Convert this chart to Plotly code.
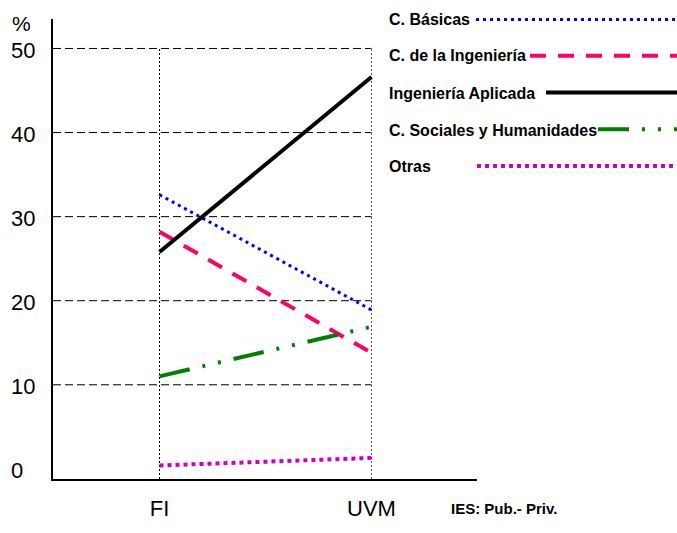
import plotly.graph_objects as go

# Share of curriculum (%) by subject area, public vs private institution
categories = ["FI", "UVM"]
basicas = [32.6, 18.9]
ciencias_ing = [28.2, 13.8]
ing_aplicada = [25.8, 46.6]
sociales = [11.0, 16.9]
otras = [0.4, 1.3]

series_names = [
    "C. Básicas",
    "C. de la Ingeniería",
    "Ingeniería Aplicada",
    "C. Sociales y Humanidades",
    "Otras",
]
series_values = [basicas, ciencias_ing, ing_aplicada, sociales, otras]

y_ticks = [0, 10, 20, 30, 40, 50]
y_tick_labels = ["0", "10", "20", "30", "40", "50"]
grid_values = [10, 20, 30, 40, 50]

# Canvas and plot-area geometry (pixels)
W, H = 677, 533
L, R, T, B = 53, 200, 19, 38
PLOT_W = W - L - R
PLOT_H = H - T - B

# axis ranges chosen so grid and guide lines fall on pixel centres
Y_SCALE = 8.7            # px per percentage point
Y_ZERO_PX = 484.5        # pixel row of the 0 value
Y_RANGE = [-(H - B - Y_ZERO_PX) / Y_SCALE, (Y_ZERO_PX - T) / Y_SCALE]
X_OFF = 0.5 / (PLOT_W / 2)
X_RANGE = [-0.5 - X_OFF, 1.5 - X_OFF]


def paper_x(px):
    return (px - L) / PLOT_W


def paper_y(py):
    return (H - B - py) / PLOT_H


FONT = "Liberation Sans, Arial, sans-serif"

styles = [
    dict(color="#0000FF", width=3, dash="3px,4px"),
    dict(color="#FF0066", width=4, dash="16px,12px"),
    dict(color="#000000", width=4, dash="solid"),
    dict(color="#008000", width=4, dash="31px,13px,3px,13px,3px,13px"),
    dict(color="#CC00CC", width=4, dash="4px,4px"),
]

xpos = list(range(len(categories)))

fig = go.Figure()
for name, vals, st in zip(series_names, series_values, styles):
    fig.add_trace(go.Scatter(
        x=xpos, y=vals, mode="lines", name=name,
        line=dict(color=st["color"], width=st["width"], dash=st["dash"]),
        showlegend=False, hoverinfo="skip",
    ))

shapes = []
# dashed horizontal grid, from the value axis to the last category
for g in grid_values:
    shapes.append(dict(type="line", xref="x", yref="y", x0=X_RANGE[0],
                       x1=xpos[-1], y0=g, y1=g, layer="below",
                       line=dict(color="black", width=1, dash="8px,4px")))
# dotted vertical guides at each category
guide_colors = ["#000000", "#555555"]
for xp, gc in zip(xpos, guide_colors):
    shapes.append(dict(type="line", xref="x", yref="y", x0=xp, x1=xp,
                       y0=Y_RANGE[0], y1=max(grid_values), layer="below",
                       line=dict(color=gc, width=1, dash="2px,2px")))

# hand-placed legend: label followed by a long line sample
legend_text_y = [20, 57, 96, 134, 172]
legend_line_y = [19.5, 57, 95, 133, 171]
legend_line_x0 = [476, 530, 546, 598, 477]
annotations = []
for name, st, ty, ly, lx in zip(series_names, styles, legend_text_y,
                                legend_line_y, legend_line_x0):
    annotations.append(dict(
        text="<b>%s</b>" % name, xref="paper", yref="paper",
        x=paper_x(387), y=paper_y(ty), xanchor="left", yanchor="middle",
        showarrow=False, font=dict(family=FONT, size=16, color="black"),
    ))
    shapes.append(dict(type="line", xref="paper", yref="paper",
                       x0=paper_x(lx), x1=paper_x(W + 2),
                       y0=paper_y(ly), y1=paper_y(ly),
                       line=dict(color=st["color"], width=st["width"],
                                 dash=st["dash"])))

# value-axis labels, left aligned
for v, lab in zip(y_ticks, y_tick_labels):
    annotations.append(dict(
        text=lab, xref="paper", yref="y", x=paper_x(9), y=v,
        xanchor="left", yanchor="middle", yshift=-2, showarrow=False,
        font=dict(family=FONT, size=22, color="black"),
    ))

annotations.append(dict(
    text="%", xref="paper", yref="paper", x=paper_x(21), y=paper_y(24),
    xanchor="center", yanchor="middle", showarrow=False,
    font=dict(family=FONT, size=21, color="black"),
))
annotations.append(dict(
    text="<b>IES: Pub.- Priv.</b>", xref="paper", yref="paper",
    x=paper_x(449), y=paper_y(526), xanchor="left", yanchor="middle",
    showarrow=False, font=dict(family=FONT, size=15, color="black"),
))

fig.update_layout(
    width=W, height=H,
    margin=dict(l=L, r=R, t=T, b=B, pad=0),
    paper_bgcolor="white", plot_bgcolor="white",
    shapes=shapes, annotations=annotations,
    showlegend=False,
    xaxis=dict(
        range=X_RANGE, tickvals=xpos, ticktext=categories,
        showgrid=False, zeroline=False, showline=True, linecolor="black",
        linewidth=2, ticks="", tickfont=dict(family=FONT, size=22, color="black"),
        ticklabelstandoff=9,
    ),
    yaxis=dict(
        range=Y_RANGE, showticklabels=False, showgrid=False,
        zeroline=False, showline=True, linecolor="black", linewidth=2,
        ticks="",
    ),
)

fig.write_html("out.html")
